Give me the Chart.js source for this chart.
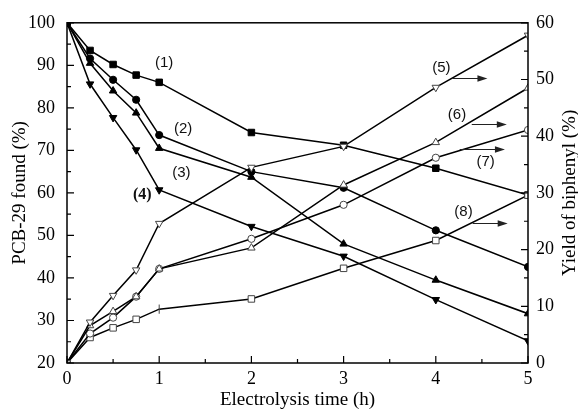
<!DOCTYPE html>
<html><head><meta charset="utf-8">
<script src="https://cdn.jsdelivr.net/npm/chart.js@4.4.1/dist/chart.umd.min.js"></script>
<style>html,body{margin:0;padding:0;background:#fff;}canvas{display:block;}</style>
</head><body>
<canvas id="c" width="578" height="409"></canvas>
<script>
// ---- data ----
const times = [0, 0.25, 0.5, 0.75, 1, 2, 3, 4, 5];
const pcb1 = [100, 93.5, 90.2, 87.7, 86.0, 74.2, 71.2, 65.8, 59.5];
const pcb2 = [100, 91.6, 86.6, 81.9, 73.6, 65.0, 61.2, 51.2, 42.6];
const pcb3 = [100, 90.5, 84.0, 78.8, 70.5, 63.7, 48.0, 39.5, 31.6];
const pcb4 = [100, 85.6, 77.7, 70.1, 60.7, 52.1, 45.1, 34.9, 25.2];
const yield5 = [0, 7.2, 11.9, 16.4, 24.6, 34.5, 38.2, 48.6, 57.8];
const yield6 = [0, 6.6, 9.1, 11.7, 16.6, 20.3, 31.4, 38.9, 48.5];
const yield7 = [0, 5.2, 8.0, 11.7, 16.6, 21.9, 27.9, 36.2, 41.1];
const yield8 = [0, 4.5, 6.2, 7.7, 9.5, 11.3, 16.7, 21.6, 29.6];
const xTickValues = [0, 1, 2, 3, 4, 5];
const leftTickValues = [20, 30, 40, 50, 60, 70, 80, 90, 100];
const rightTickValues = [0, 10, 20, 30, 40, 50, 60];
const xTitle = 'Electrolysis time (h)';
const leftTitle = 'PCB-29 found (%)';
const rightTitle = 'Yield of biphenyl (%)';
// series tags, placed in data units (hours, left-axis %)
const tagText = ['(1)', '(2)', '(3)', '(4)', '(5)', '(6)', '(7)', '(8)'];
const tagX = [1.054, 1.26, 1.24, 0.816, 4.06, 4.23, 4.54, 4.30];
const tagY = [90.5, 75.1, 64.7, 59.5, 89.3, 78.4, 67.4, 55.6];
// arrows for tags (5)-(8): from x0 to x1 at height y (hours, left %)
const arrowX0 = [4.18, 4.39, 4.26, 4.40];
const arrowX1 = [4.56, 4.77, 4.75, 4.78];
const arrowY = [87.1, 76.3, 70.3, 53.0];

const serif = '"Liberation Serif", "Times New Roman", serif';
const sans = '"Liberation Sans", Arial, sans-serif';

function pts(vals) { return vals.map((v, i) => ({ x: times[i], y: v })); }

function filled(vals, style, r, rot) {
  return {
    data: pts(vals), yAxisID: 'y',
    borderColor: '#000', borderWidth: 1.5,
    pointStyle: style, pointRadius: r, pointRotation: rot || 0,
    pointBackgroundColor: '#000', pointBorderColor: '#000', pointBorderWidth: 1,
    tension: 0
  };
}
function open(vals, style, r, rot) {
  return {
    data: pts(vals), yAxisID: 'y1',
    borderColor: '#000', borderWidth: 1.5,
    pointStyle: style, pointRadius: r, pointRotation: rot || 0,
    pointBackgroundColor: '#fff', pointBorderColor: '#444', pointBorderWidth: 1,
    tension: 0
  };
}

const ds8 = open(yield8, 'rect', 4.6);
ds8.pointStyle = times.map(t => t === 1 ? 'line' : 'rect');
ds8.pointRotation = times.map(t => t === 1 ? 90 : 0);

const datasets = [
  open(yield5, 'triangle', 4.3, 180),
  open(yield6, 'triangle', 4.3),
  open(yield7, 'circle', 3.6),
  ds8,
  filled(pcb1, 'rect', 4.6),
  filled(pcb2, 'circle', 3.6),
  filled(pcb3, 'triangle', 4.3),
  filled(pcb4, 'triangle', 4.3, 180)
];

const decor = {
  id: 'decor',
  afterDraw(chart) {
    const ctx = chart.ctx;
    const a = chart.chartArea;
    const xs = chart.scales.x, yl = chart.scales.y, yr = chart.scales.y1;
    ctx.save();
    ctx.strokeStyle = '#000';
    ctx.lineWidth = 1.5;
    ctx.strokeRect(a.left, a.top, a.right - a.left, a.bottom - a.top);
    ctx.lineWidth = 1.2;
    ctx.beginPath();
    for (let v = 0; v <= 5.0001; v += 0.5) {
      const p = xs.getPixelForValue(v);
      const L = Math.abs(v - Math.round(v)) < 1e-6 ? 7 : 4;
      ctx.moveTo(p, a.bottom); ctx.lineTo(p, a.bottom - L);
    }
    for (let v = 20; v <= 100; v += 5) {
      const p = yl.getPixelForValue(v);
      const L = v % 10 === 0 ? 7 : 4;
      ctx.moveTo(a.left, p); ctx.lineTo(a.left + L, p);
    }
    for (let v = 0; v <= 60; v += 5) {
      const p = yr.getPixelForValue(v);
      const L = v % 10 === 0 ? 7 : 4;
      ctx.moveTo(a.right, p); ctx.lineTo(a.right - L, p);
    }
    ctx.stroke();

    // right title, reading bottom-to-top
    ctx.fillStyle = '#000';
    ctx.font = '19px ' + serif;
    ctx.textAlign = 'center';
    ctx.textBaseline = 'middle';
    ctx.save();
    ctx.translate(570, (a.top + a.bottom) / 2);
    ctx.rotate(-Math.PI / 2);
    ctx.fillText(rightTitle, 0, 0);
    ctx.restore();

    // series tags
    tagText.forEach((t, i) => {
      ctx.font = (i === 3 ? 'bold 16px ' + serif : '15px ' + sans);
      ctx.fillStyle = '#111';
      ctx.fillText(t, xs.getPixelForValue(tagX[i]), yl.getPixelForValue(tagY[i]));
    });
    // arrows
    ctx.strokeStyle = '#222';
    ctx.fillStyle = '#222';
    ctx.lineWidth = 1;
    arrowY.forEach((yv, i) => {
      const x0 = xs.getPixelForValue(arrowX0[i]);
      const x1 = xs.getPixelForValue(arrowX1[i]);
      const y = Math.round(yl.getPixelForValue(yv)) + 0.5;
      ctx.beginPath(); ctx.moveTo(x0, y); ctx.lineTo(x1 - 8, y); ctx.stroke();
      ctx.beginPath(); ctx.moveTo(x1, y); ctx.lineTo(x1 - 10, y - 3.2); ctx.lineTo(x1 - 10, y + 3.2); ctx.closePath(); ctx.fill();
    });
    ctx.restore();
  }
};

new Chart(document.getElementById('c'), {
  type: 'line',
  data: { datasets },
  options: {
    responsive: false,
    devicePixelRatio: 1,
    animation: false,
    layout: { padding: { top: 19, left: 0, right: 0, bottom: 0 } },
    plugins: { legend: { display: false }, tooltip: { enabled: false } },
    scales: {
      x: {
        type: 'linear', min: 0, max: 5,
        afterFit: s => { s.height = 46; },
        afterBuildTicks: s => { s.ticks = xTickValues.map(v => ({ value: v })); },
        grid: { display: false, drawTicks: false }, border: { display: false },
        ticks: { color: '#000', font: { family: serif, size: 18 }, padding: 5, maxRotation: 0 },
        title: { display: true, text: xTitle, color: '#000', font: { family: serif, size: 19 }, padding: { top: 0, bottom: -2 } }
      },
      y: {
        type: 'linear', position: 'left', min: 20, max: 100,
        afterFit: s => { s.width = 67; },
        afterBuildTicks: s => { s.ticks = leftTickValues.map(v => ({ value: v })); },
        grid: { display: false, drawTicks: false }, border: { display: false },
        ticks: { color: '#000', font: { family: serif, size: 18 }, padding: 12 },
        title: { display: true, text: leftTitle, color: '#000', font: { family: serif, size: 19 }, padding: { top: 9, bottom: 0 } }
      },
      y1: {
        type: 'linear', position: 'right', min: 0, max: 60,
        afterFit: s => { s.width = 50; },
        afterBuildTicks: s => { s.ticks = rightTickValues.map(v => ({ value: v })); },
        grid: { display: false, drawTicks: false }, border: { display: false },
        ticks: { color: '#000', font: { family: serif, size: 18 }, padding: 8 }
      }
    }
  },
  plugins: [decor]
});
</script>
</body></html>
